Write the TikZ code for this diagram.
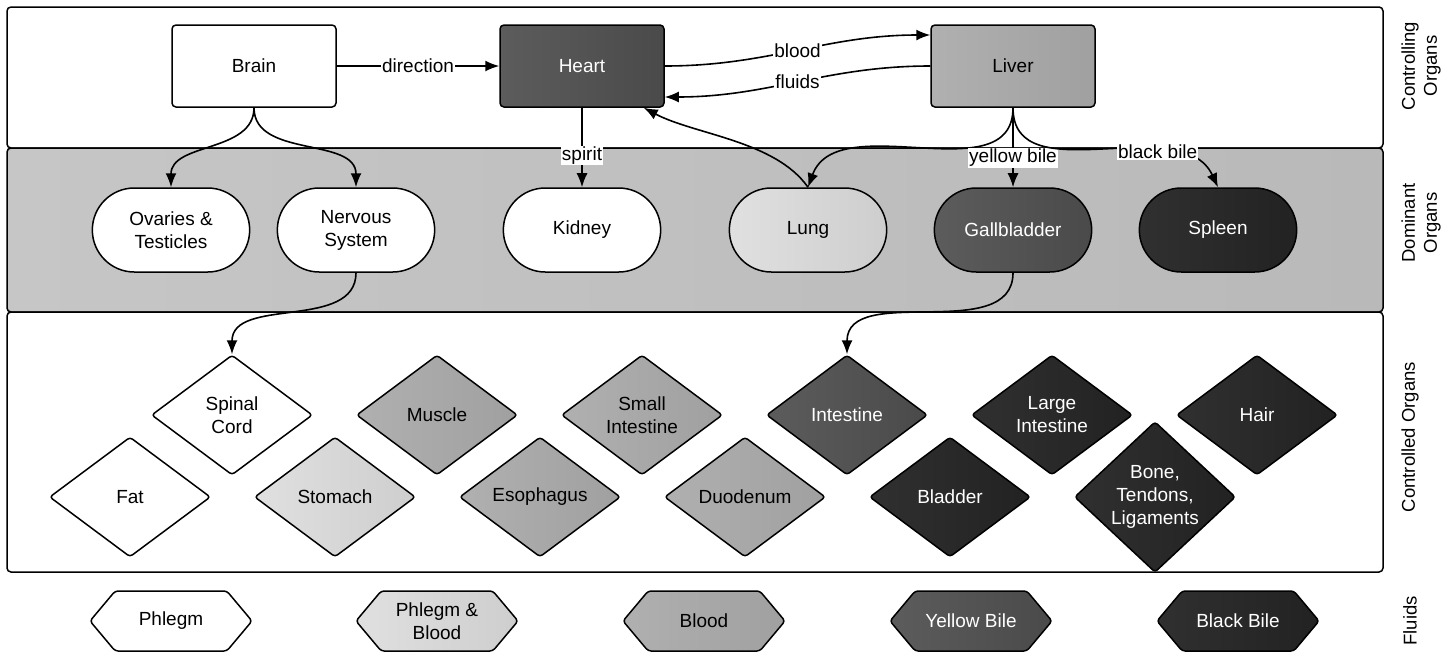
\documentclass[tikz,border=0pt]{standalone}
\usepackage{fontspec}
\setmainfont{Liberation Sans}
\usetikzlibrary{arrows.meta, shapes.geometric, shapes.misc, shapes.symbols}

\definecolor{bandgray}{HTML}{C6C6C6}
\definecolor{bandgrayb}{HTML}{B9B9B9}
\definecolor{lighta}{HTML}{E0E0E0}
\definecolor{lightb}{HTML}{CECECE}
\definecolor{mida}{HTML}{B0B0B0}
\definecolor{midb}{HTML}{A0A0A0}
\definecolor{darka}{HTML}{5C5C5C}
\definecolor{darkb}{HTML}{4A4A4A}
\definecolor{blacka}{HTML}{303030}
\definecolor{blackb}{HTML}{222222}

\tikzset{
  organ/.style={draw=black, line width=1.5pt, font=\fontsize{19}{23}\selectfont,
    align=center, text=black, fill=white},
  ctrlbox/.style={organ, rectangle, rounded corners=4pt, minimum width=164pt, minimum height=82pt},
  dombox/.style={organ, rounded rectangle, minimum width=164pt, minimum height=84pt},
  subbox/.style={organ, diamond, rounded corners=3pt, minimum width=161pt,
    minimum height=120pt, inner sep=0pt},
  fluidbox/.style={organ, signal, signal to=east and west, signal pointer angle=100,
    minimum width=162pt, minimum height=60pt, rounded corners=3pt},
  lgt/.style={left color=lighta, right color=lightb},
  mid/.style={left color=mida, right color=midb},
  drk/.style={left color=darka, right color=darkb, text=white},
  blk/.style={left color=blacka, right color=blackb, text=white},
  link/.style={line width=1.6pt, -{Latex[length=14pt,width=11pt]}},
  lbl/.style={fill=white, inner sep=1pt, font=\fontsize{19}{23}\selectfont},
  band/.style={draw=black, line width=1.5pt, rounded corners=4pt},
  side/.style={rotate=90, align=center, font=\fontsize{18.5}{22}\selectfont}
}

\begin{document}
\begin{tikzpicture}[x=1pt, y=-1pt]
\useasboundingbox (0,0) rectangle (1448,654);

% bands
\draw[band, fill=white] (7,7) rectangle (1383,148);
\draw[band, left color=bandgray, right color=bandgrayb] (7,148) rectangle (1383,312);
\draw[band, fill=white] (7,312) rectangle (1383,572);

\node[side] (lblctrl) at (1421,66) {Controlling\\Organs};
\node[side] (lbldom) at (1421,223) {Dominant\\Organs};
\node[side] (lblsub) at (1410,437) {Controlled Organs};
\node[side] (lblfluid) at (1410,621) {Fluids};

% controlling organs
\node[ctrlbox] (brain) at (254,66) {Brain};
\node[ctrlbox, drk] (heart) at (582,66) {Heart};
\node[ctrlbox, mid] (liver) at (1013,66) {Liver};

% dominant organs
\node[dombox] (ovaries) at (171,230) {Ovaries \&\\Testicles};
\node[dombox] (nervous) at (356,230) {Nervous\\System};
\node[dombox] (kidney) at (582,230) {Kidney};
\node[dombox, lgt] (lung) at (808,230) {Lung};
\node[dombox, drk] (gall) at (1013,230) {Gallbladder};
\node[dombox, blk] (spleen) at (1218,230) {Spleen};

% controlled organs
\node[subbox] (spinal) at (232,415) {Spinal\\Cord};
\node[subbox, mid] (muscle) at (437,415) {Muscle};
\node[subbox, mid] (smallint) at (642,415) {Small\\Intestine};
\node[subbox, drk] (intestine) at (847,415) {Intestine};
\node[subbox, blk] (largeint) at (1052,415) {Large\\Intestine};
\node[subbox, blk] (hair) at (1257,415) {Hair};
\node[subbox] (fat) at (130,497) {Fat};
\node[subbox, lgt] (stomach) at (335,497) {Stomach};
\node[subbox, mid] (esoph) at (540,497) {Esophagus};
\node[subbox, mid] (duoden) at (745,497) {Duodenum};
\node[subbox, blk] (bladder) at (950,497) {Bladder};
\node[subbox, blk] (bone) at (1155,497) {Bone,\\Tendons,\\Ligaments};

% fluids
\node[fluidbox] (phlegm) at (171,621) {Phlegm};
\node[fluidbox, lgt] (phlegmblood) at (437,621) {Phlegm \&\\Blood};
\node[fluidbox, mid] (blood) at (704,621) {Blood};
\node[fluidbox, drk] (yellow) at (971,621) {Yellow Bile};
\node[fluidbox, blk] (black) at (1238,621) {Black Bile};

% connectors
\draw[link] (brain) -- node[lbl]{direction} (heart);
\draw[link] (heart.east) to[out=0, in=180] node[lbl]{blood} ([yshift=31pt]liver.west);
\draw[link] (liver.west) to[out=180, in=0] node[lbl]{fluids} ([yshift=-31pt]heart.east);
\draw[link] (heart) -- node[lbl, pos=0.6]{spirit} (kidney);
\draw[link] (brain.south) to[out=-90, in=90] (ovaries.north);
\draw[link] (brain.south) to[out=-90, in=90] (nervous.north);
\draw[link] (lung.north) to[out=125, in=-28, looseness=0.8] ([xshift=-21pt]heart.south east);
\draw[link] (liver.south) to[out=-90, in=70] (lung.north);
\draw[link] (liver) -- node[lbl, pos=0.63]{yellow bile} (gall);
\draw[link] (liver.south) to[out=-90, in=115] node[lbl, pos=0.7]{black bile} (spleen.north);
\draw[link] (nervous.south) to[out=-90, in=90] (spinal.north);
\draw[link] (gall.south) to[out=-90, in=90] (intestine.north);
\end{tikzpicture}
\end{document}
